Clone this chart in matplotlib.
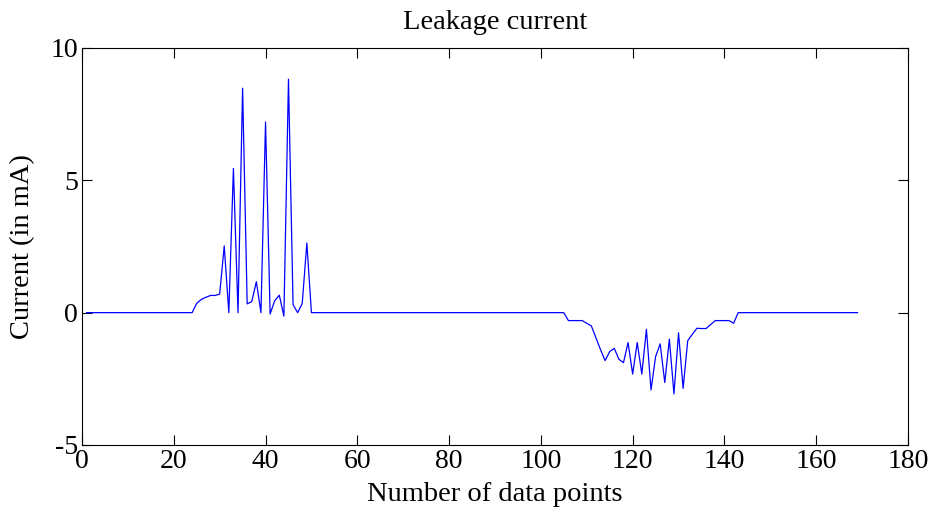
import numpy as np
import matplotlib.pyplot as plt

plt.rcParams['font.family'] = ['Liberation Serif', 'DejaVu Serif']
plt.rcParams['axes.unicode_minus'] = False

# leakage current samples (mA), one per data point, points 1..169
idle_start = [0.0] * 24
burst_pos = [0.35, 0.5, 0.58, 0.65, 0.65, 0.7, 2.52, 0.0, 5.45, 0.0,
             8.48, 0.33, 0.42, 1.17, 0.0, 7.2, -0.05, 0.45, 0.66, -0.13,
             8.82, 0.3, 0.0, 0.35, 2.63, 0.0]
idle_mid = [0.0] * 55
burst_neg = [-0.3, -0.3, -0.3, -0.3, -0.4, -0.5, -0.95, -1.4, -1.81, -1.47,
             -1.35, -1.76, -1.89, -1.13, -2.32, -1.13, -2.32, -0.63, -2.92, -1.66,
             -1.18, -2.64, -1.0, -3.07, -0.76, -2.86, -1.06, -0.82, -0.59, -0.6,
             -0.6, -0.45, -0.3, -0.3, -0.3, -0.3, -0.4]
idle_end = [0.0] * 27

current = np.array(idle_start + burst_pos + idle_mid + burst_neg + idle_end)
points = np.arange(1, len(current) + 1)

x_ticks = [0, 20, 40, 60, 80, 100, 120, 140, 160, 180]
y_ticks = [-5, 0, 5, 10]

fig = plt.figure(figsize=(9.38, 5.17), dpi=100)
ax = fig.add_axes([0.0874, 0.1393, 0.8806, 0.7679])
ax.plot(points, current, color='#0000ff', linewidth=0.9)

ax.set_xlim(0, 180)
ax.set_ylim(-5, 10)
ax.set_xticks(x_ticks)
ax.set_yticks(y_ticks)
ax.tick_params(direction='in', length=7, width=0.8, top=True, right=True,
               labelsize=20, pad=3)
for s in ax.spines.values():
    s.set_linewidth(0.8)

ax.set_title('Leakage current', fontsize=20.5, pad=14)
ax.set_xlabel('Number of data points', fontsize=20.5, labelpad=6)
ax.set_ylabel('Current (in mA)', fontsize=20.5, labelpad=11)

fig.savefig('out.png', dpi=100)
